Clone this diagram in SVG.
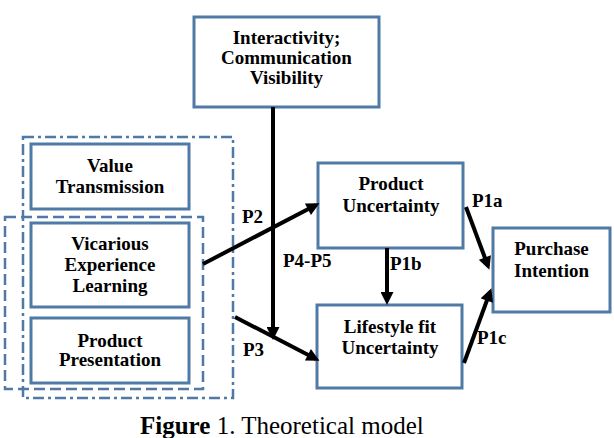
<svg xmlns="http://www.w3.org/2000/svg" width="614" height="438" viewBox="0 0 614 438" font-family="'Liberation Serif', serif">
<style>
.box{fill:#fff;stroke:#4f7aa6;stroke-width:3}
.t{font-weight:bold;font-size:19px;fill:#000;text-anchor:middle}
.lbl{font-weight:bold;font-size:19px;fill:#000}
.conn{stroke:#000;stroke-width:4;fill:none;marker-end:url(#ah)}
.dd{fill:none;stroke:#4f7aa6;stroke-width:2.5;stroke-dasharray:11 4 3 4}
.dsh{fill:none;stroke:#4f7aa6;stroke-width:2.5;stroke-dasharray:11 5}
</style>
<defs>
<marker id="ah" viewBox="0 0 10 10" refX="7" refY="5" markerWidth="15" markerHeight="13" markerUnits="userSpaceOnUse" orient="auto">
<path d="M0,0 L10,5 L0,10 z" fill="#000"/>
</marker>
</defs>
<rect width="614" height="438" fill="#fff"/>
<g id="groups">
<rect class="dd" x="23" y="137" width="210" height="261"/>
<rect class="dsh" x="5" y="217" width="198" height="172"/>
</g>
<g id="interactivity">
<rect class="box" x="194" y="17" width="185" height="90"/>
<text class="t" x="286.5" y="44">Interactivity;</text>
<text class="t" x="286.5" y="64">Communication</text>
<text class="t" x="286.5" y="84">Visibility</text>
</g>
<g id="value">
<rect class="box" x="31" y="144" width="158" height="65"/>
<text class="t" x="110" y="172">Value</text>
<text class="t" x="110" y="193">Transmission</text>
</g>
<g id="vicarious">
<rect class="box" x="31" y="223" width="158" height="84"/>
<text class="t" x="110" y="250">Vicarious</text>
<text class="t" x="110" y="271">Experience</text>
<text class="t" x="110" y="292">Learning</text>
</g>
<g id="presentation">
<rect class="box" x="31" y="318" width="158" height="65"/>
<text class="t" x="110" y="347">Product</text>
<text class="t" x="110" y="366">Presentation</text>
</g>
<g id="product-uncertainty">
<rect class="box" x="318" y="163" width="145" height="85"/>
<text class="t" x="391" y="190">Product</text>
<text class="t" x="391" y="212">Uncertainty</text>
</g>
<g id="lifestyle">
<rect class="box" x="317" y="305" width="145" height="83"/>
<text class="t" x="390" y="333">Lifestyle fit</text>
<text class="t" x="390" y="354">Uncertainty</text>
</g>
<g id="purchase">
<rect class="box" x="493" y="228" width="117" height="84"/>
<text class="t" x="551.5" y="255">Purchase</text>
<text class="t" x="551.5" y="277">Intention</text>
</g>
<g id="connectors">
<line class="conn" x1="273" y1="107" x2="273" y2="336"/>
<line class="conn" x1="203" y1="264" x2="316" y2="205"/>
<line class="conn" x1="235" y1="317" x2="316" y2="359"/>
<line class="conn" x1="387" y1="248" x2="387" y2="301"/>
<line class="conn" x1="466" y1="207" x2="488" y2="266"/>
<line class="conn" x1="464" y1="363" x2="490" y2="292"/>
<text class="lbl" x="242" y="223">P2</text>
<text class="lbl" x="283" y="267">P4-P5</text>
<text class="lbl" x="243" y="356">P3</text>
<text class="lbl" x="390" y="270">P1b</text>
<text class="lbl" x="472" y="207">P1a</text>
<text class="lbl" x="477" y="344">P1c</text>
</g>
<text x="140" y="434" font-size="25" fill="#000"><tspan font-weight="bold">Figure</tspan> 1. Theoretical model</text>
</svg>
